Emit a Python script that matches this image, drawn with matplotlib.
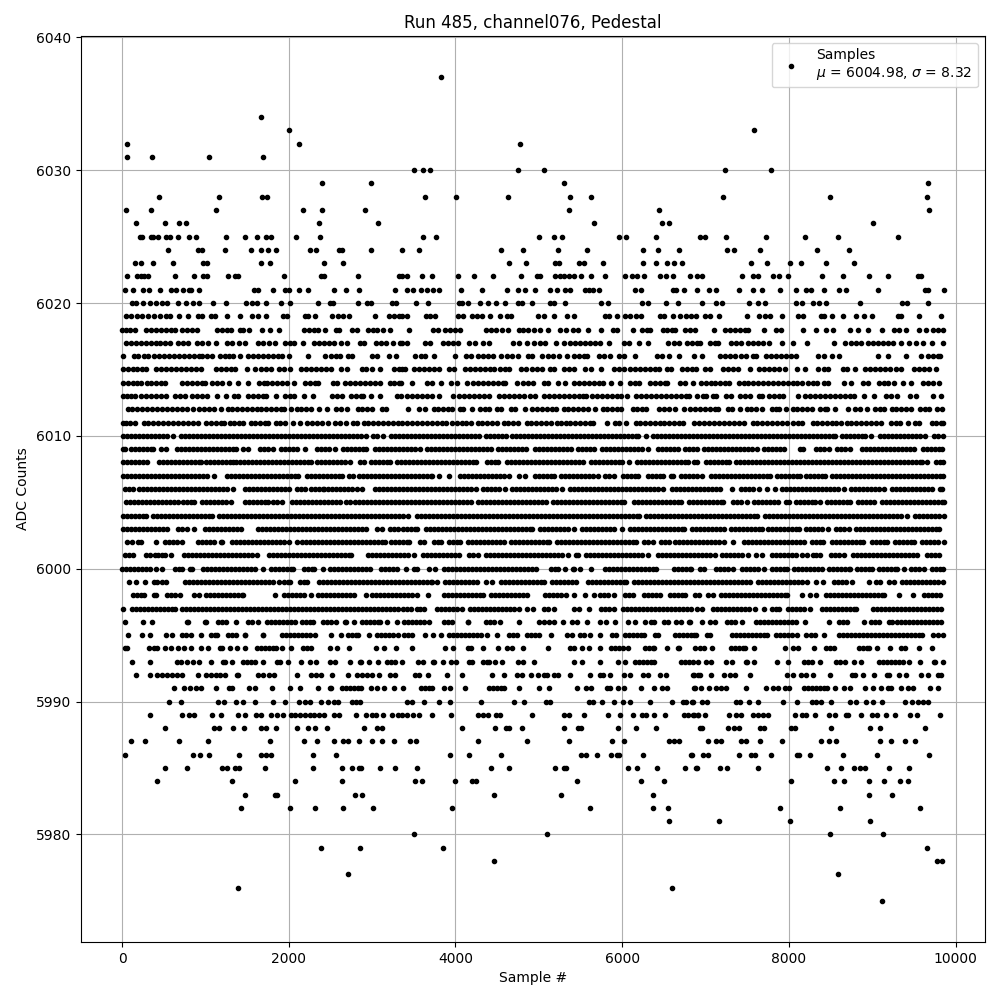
import matplotlib
matplotlib.use("Agg")
import matplotlib.pyplot as plt

# sample numbers, one list per ADC level
adc_6037 = [3832]
adc_6034 = [1668]
adc_6033 = [2004, 7580]
adc_6032 = [60, 2124, 4780]
adc_6031 = [60, 360, 1044, 1692]
adc_6030 = [3508, 3616, 3700, 4756, 5056, 7232, 7784]
adc_6029 = [2400, 2988, 5296, 9668]
adc_6028 = [444, 1164, 1680, 1740, 3640, 4012, 4636, 5368, 5620, 7208, 8492, 9656]
adc_6027 = [48, 348, 1128, 2172, 2400, 2916, 5356, 6436, 9680]
adc_6026 = [168, 516, 684, 768, 2364, 3072, 5656, 6472, 6556, 9008]
adc_6025 = [216, 240, 348, 372, 432, 528, 576, 672, 804, 888, 1248, 1476, 1620, 1728, 1788, 2088, 2376, 3616, 3772,
            4996, 5176, 5272, 5956, 6040, 6400, 6928, 6992, 7244, 7724, 8192, 8588, 9308]
adc_6024 = [552, 912, 960, 1236, 1548, 1668, 1752, 1848, 2256, 2328, 2604, 2640, 2988, 3364, 3568, 4552, 4816, 5224,
            5572, 6244, 6424, 6676, 7256, 7340, 7652, 8336, 8720]
adc_6023 = [156, 228, 372, 612, 972, 1020, 1668, 1776, 2424, 2652, 4648, 4852, 5188, 5236, 5476, 5536, 5764, 6244,
            6400, 6532, 6616, 6712, 7544, 7736, 8012, 8144, 8444, 8780]
adc_6022 = [60, 180, 228, 264, 312, 636, 864, 972, 1020, 1272, 1356, 1392, 1944, 2388, 2424, 2832, 3324, 3364, 3424,
            3604, 3724, 4036, 4228, 4456, 4792, 4972, 5008, 5188, 5248, 5296, 5356, 5416, 5500, 5620, 5788, 6028,
            6112, 6172, 6264, 6456, 6528, 6612, 6816, 6896, 6956, 7436, 7568, 7628, 7808, 7880, 7988, 8396, 8648,
            8960, 9188, 9548, 9584]
adc_6021 = [36, 132, 252, 324, 456, 588, 648, 732, 804, 828, 924, 1584, 1632, 1812, 1956, 2004, 2124, 2232, 2544,
            2688, 2844, 3276, 3424, 3496, 3592, 3664, 3736, 3808, 4072, 4324, 4624, 4756, 4840, 4948, 5128, 5212,
            5308, 5368, 5548, 5596, 5644, 5716, 6148, 6220, 6604, 6644, 6736, 6896, 7040, 7124, 7400, 7568, 7676,
            7892, 8084, 8204, 8264, 8420, 8600, 8684, 9068, 9632, 9668, 9860]
adc_6020 = [120, 168, 252, 336, 408, 480, 540, 672, 768, 852, 924, 1092, 1248, 1488, 1560, 1620, 1728, 1908, 2016,
            2352, 2496, 2532, 2832, 2940, 2988, 3240, 3288, 3532, 3676, 4048, 4084, 4156, 4300, 4396, 4488, 4600,
            4756, 4804, 4924, 5128, 5176, 5308, 5740, 5824, 6232, 6304, 6520, 6664, 6960, 7124, 7196, 7520, 7628,
            7712, 8084, 8156, 8288, 8360, 8444, 8852, 9356, 9416, 9668]
adc_6019 = [48, 112, 176, 240, 312, 384, 456, 528, 576, 684, 792, 912, 960, 1068, 1116, 1260, 1416, 1560, 1632, 1728,
            1932, 1980, 2196, 2232, 2316, 2520, 2592, 2652, 2724, 3032, 3204, 3264, 3324, 3364, 3424, 3652, 3700,
            3760, 4036, 4096, 4204, 4264, 4324, 4420, 4540, 4624, 4672, 4984, 5056, 5176, 5332, 5416, 5788, 5836,
            5940, 6028, 6088, 6160, 6220, 6448, 6496, 6612, 6688, 6760, 6820, 6884, 6992, 7052, 7160, 7496, 7640,
            7712, 7772, 7916, 8108, 8168, 8384, 8420, 8516, 8648, 8804, 8900, 8996, 9308, 9344, 9560, 9824]
adc_6018 = [0, 50, 100, 160, 284, 344, 404, 464, 524, 584, 632, 724, 784, 844, 904, 1144, 1204, 1264, 1312, 1416,
            1456, 1524, 1680, 1776, 1884, 2184, 2244, 2304, 2352, 2432, 2564, 2608, 2764, 2824, 2952, 3012, 3064,
            3136, 3216, 3448, 3736, 3796, 3876, 3936, 3996, 4056, 4368, 4424, 4488, 4556, 4636, 4768, 4816, 4876,
            4936, 5008, 5104, 5256, 5324, 5404, 5468, 5584, 5740, 5884, 5936, 6124, 6236, 6296, 6336, 6484, 6536,
            6596, 6636, 6748, 6816, 6876, 7100, 7228, 7288, 7348, 7408, 7468, 7508, 7700, 7840, 7908, 8168, 8324,
            8440, 8528, 8732, 8828, 8948, 9116, 9256, 9320, 9408, 9560, 9640, 9728, 9788, 9848]
adc_6017 = [44, 104, 164, 224, 284, 344, 404, 456, 512, 576, 672, 732, 792, 896, 956, 1032, 1124, 1256, 1324, 1400,
            1472, 1632, 1696, 1760, 1832, 1952, 2012, 2064, 2172, 2304, 2364, 2424, 2484, 2544, 2624, 2704, 2856,
            2904, 3044, 3104, 3164, 3256, 3336, 3356, 3416, 3636, 3696, 3856, 3916, 3976, 4036, 4168, 4236, 4336,
            4408, 4688, 4768, 4864, 4936, 5016, 5076, 5200, 5304, 5376, 5436, 5496, 5556, 5616, 5676, 5736, 5836,
            6016, 6076, 6196, 6304, 6548, 6616, 6676, 6776, 6836, 6896, 6936, 7048, 7108, 7148, 7308, 7368, 7428,
            7508, 7568, 7628, 7688, 7756, 7916, 8048, 8216, 8536, 8672, 8748, 8808, 8868, 8948, 9008, 9068, 9128,
            9188, 9248, 9348, 9440, 9528, 9608, 9716, 9848]
adc_6016 = [16, 144, 196, 264, 316, 384, 444, 504, 564, 624, 684, 744, 804, 864, 924, 964, 1024, 1084, 1176, 1232,
            1288, 1336, 1416, 1512, 1572, 1632, 1692, 1752, 1812, 1872, 1924, 2004, 2232, 2432, 2504, 2564, 2616,
            2712, 2764, 3004, 3056, 3204, 3284, 3520, 3584, 3640, 3744, 4000, 4128, 4192, 4276, 4336, 4396, 4456,
            4548, 4616, 4676, 4756, 4876, 4924, 5036, 5104, 5164, 5236, 5336, 5416, 5476, 5536, 5576, 5724, 5784,
            5848, 5956, 6016, 6148, 6416, 6476, 6556, 6676, 6856, 6956, 7168, 7228, 7288, 7348, 7428, 7488, 7568,
            7608, 7720, 7788, 7848, 7908, 7968, 8028, 8080, 8348, 8416, 8520, 8600, 9068, 9188, 9400, 9588, 9668,
            9728, 9788, 9816]
adc_6015 = [16, 70, 125, 180, 240, 290, 404, 464, 524, 584, 644, 704, 764, 824, 884, 944, 1124, 1184, 1244, 1304,
            1350, 1496, 1592, 1672, 1732, 1790, 1884, 1944, 2010, 2144, 2204, 2264, 2324, 2384, 2444, 2510, 2632,
            2704, 2876, 2932, 3004, 3096, 3264, 3324, 3356, 3392, 3504, 3564, 3624, 3684, 3744, 3800, 3928, 3980,
            4116, 4176, 4236, 4296, 4356, 4416, 4468, 4536, 4596, 4640, 4784, 4848, 4916, 4976, 5040, 5128, 5180,
            5304, 5364, 5420, 5556, 5620, 5748, 5896, 5956, 6024, 6096, 6156, 6216, 6276, 6336, 6396, 6440, 6536,
            6590, 6716, 6776, 6836, 6888, 6988, 7048, 7208, 7268, 7328, 7388, 7532, 7636, 7696, 7756, 7816, 7876,
            7950, 8096, 8188, 8348, 8416, 8470, 8648, 8700, 8788, 8908, 8968, 9028, 9088, 9148, 9208, 9280, 9340,
            9496, 9556, 9616, 9676, 9760]
adc_6014 = [16, 70, 125, 180, 225, 296, 344, 404, 464, 510, 716, 776, 836, 896, 956, 1000, 1076, 1136, 1196, 1280,
            1392, 1512, 1640, 1700, 1744, 1804, 1864, 1924, 1984, 2060, 2192, 2252, 2312, 2350, 2532, 2580, 2672,
            2732, 2792, 2852, 2912, 2972, 3032, 3100, 3216, 3264, 3324, 3348, 3480, 3656, 3716, 3828, 3944, 4016,
            4136, 4208, 4268, 4328, 4388, 4448, 4508, 4568, 4600, 4744, 4816, 4876, 4930, 5064, 5110, 5224, 5308,
            5416, 5476, 5536, 5596, 5656, 5716, 5765, 5864, 5968, 6096, 6156, 6205, 6336, 6396, 6456, 6516, 6540,
            6696, 6750, 6848, 6948, 7008, 7068, 7110, 7176, 7236, 7285, 7400, 7460, 7510, 7568, 7628, 7688, 7748,
            7808, 7868, 7928, 7988, 8048, 8100, 8156, 8228, 8288, 8340, 8416, 8470, 8656, 8750, 8888, 8950, 9076,
            9136, 9190, 9256, 9368, 9468, 9608, 9668, 9728, 9800]
adc_6013 = [16, 60, 110, 160, 224, 284, 344, 404, 464, 530, 632, 692, 750, 844, 904, 964, 1020, 1136, 1248, 1344,
            1392, 1516, 1576, 1636, 1692, 1730, 1844, 1956, 2016, 2066, 2184, 2292, 2524, 2584, 2635, 2744, 2804,
            2864, 2895, 2992, 3096, 3304, 3352, 3416, 3476, 3536, 3596, 3656, 3716, 3800, 3976, 4048, 4108, 4168,
            4228, 4288, 4348, 4400, 4528, 4588, 4648, 4708, 4768, 4828, 4896, 4950, 5056, 5116, 5176, 5236, 5296,
            5356, 5416, 5476, 5530, 5564, 5636, 5696, 5756, 5816, 5876, 5936, 5990, 6056, 6168, 6228, 6288, 6348,
            6408, 6468, 6528, 6588, 6648, 6708, 6768, 6800, 6896, 6968, 7008, 7088, 7130, 7248, 7300, 7408, 7468,
            7535, 7636, 7672, 7756, 7816, 7876, 7935, 8108, 8188, 8248, 8308, 8368, 8428, 8488, 8548, 8608, 8668,
            8728, 8780, 8900, 9016, 9168, 9220, 9296, 9448, 9520, 9728, 9820]
adc_6012 = [70, 120, 176, 236, 296, 356, 416, 476, 536, 596, 656, 716, 776, 850, 924, 984, 1044, 1100, 1184, 1272,
            1324, 1384, 1444, 1504, 1564, 1615, 1672, 1724, 1784, 1844, 1904, 1945, 2024, 2096, 2148, 2208, 2268,
            2360, 2456, 2572, 2624, 2700, 2832, 2884, 2944, 2995, 3124, 3170, 3436, 3568, 3630, 3745, 3796, 3856,
            3916, 3960, 4056, 4096, 4196, 4296, 4356, 4408, 4504, 4550, 4664, 4720, 4840, 4924, 4976, 5036, 5096,
            5156, 5208, 5296, 5348, 5408, 5468, 5528, 5588, 5668, 5764, 5816, 5876, 5936, 5990, 6124, 6176, 6236,
            6288, 6436, 6504, 6556, 6628, 6744, 6808, 6870, 6936, 6988, 7048, 7108, 7150, 7264, 7320, 7412, 7496,
            7548, 7608, 7680, 7796, 7848, 7880, 7968, 8048, 8100, 8160, 8220, 8272, 8376, 8428, 8460, 8552, 8708,
            8796, 8848, 8940, 9036, 9088, 9140, 9236, 9288, 9348, 9408, 9460, 9576, 9628, 9680, 9776, 9840]
adc_6011 = [16, 50, 100, 150, 260, 310, 376, 436, 496, 556, 616, 676, 736, 796, 856, 915, 1012, 1064, 1124, 1184,
            1224, 1292, 1344, 1404, 1456, 1544, 1596, 1656, 1716, 1752, 1844, 1896, 1956, 2048, 2132, 2224, 2276,
            2336, 2396, 2476, 2560, 2616, 2692, 2772, 2816, 2904, 2956, 3016, 3076, 3136, 3196, 3256, 3316, 3356,
            3416, 3476, 3536, 3596, 3656, 3716, 3776, 3836, 3884, 3964, 4016, 4076, 4128, 4192, 4272, 4324, 4384,
            4444, 4496, 4584, 4636, 4696, 4748, 4856, 4908, 4968, 5028, 5088, 5140, 5216, 5260, 5324, 5376, 5436,
            5496, 5556, 5616, 5648, 5816, 5916, 5960, 6048, 6164, 6216, 6276, 6336, 6388, 6456, 6504, 6556, 6616,
            6676, 6728, 6864, 6916, 6976, 7036, 7096, 7156, 7216, 7276, 7336, 7396, 7460, 7568, 7620, 7680, 7740,
            7800, 7860, 7920, 7980, 8048, 8108, 8160, 8288, 8340, 8400, 8460, 8520, 8560, 8628, 8696, 8748, 8808,
            8868, 8928, 8988, 9048, 9100, 9228, 9280, 9332, 9428, 9516, 9560, 9716, 9768, 9820, 9850]
adc_6010 = [16, 64, 112, 160, 208, 256, 304, 352, 400, 448, 496, 544, 612, 704, 752, 800, 848, 896, 944, 992, 1040,
            1088, 1136, 1184, 1232, 1280, 1328, 1376, 1424, 1472, 1520, 1568, 1616, 1664, 1712, 1760, 1808, 1856,
            1904, 1952, 2000, 2048, 2096, 2144, 2192, 2240, 2288, 2336, 2384, 2432, 2480, 2528, 2576, 2624, 2672,
            2720, 2768, 2816, 2864, 2932, 3016, 3064, 3132, 3224, 3272, 3320, 3368, 3416, 3464, 3512, 3560, 3608,
            3656, 3704, 3752, 3800, 3848, 3896, 3944, 3992, 4040, 4088, 4136, 4184, 4232, 4284, 4368, 4416, 4464,
            4512, 4560, 4604, 4676, 4724, 4772, 4820, 4868, 4916, 4964, 5012, 5060, 5108, 5156, 5204, 5252, 5300,
            5348, 5396, 5444, 5492, 5540, 5588, 5636, 5684, 5732, 5780, 5828, 5876, 5924, 5972, 6020, 6068, 6116,
            6164, 6192, 6280, 6368, 6416, 6464, 6512, 6560, 6608, 6656, 6704, 6752, 6800, 6848, 6896, 6944, 6992,
            7040, 7088, 7136, 7184, 7232, 7280, 7328, 7376, 7424, 7472, 7520, 7568, 7616, 7664, 7712, 7760, 7808,
            7856, 7904, 7952, 8000, 8048, 8096, 8144, 8192, 8240, 8288, 8336, 8384, 8432, 8480, 8528, 8556, 8640,
            8688, 8736, 8784, 8832, 8880, 8916, 8980, 9088, 9136, 9184, 9232, 9280, 9328, 9376, 9424, 9472, 9520,
            9568, 9636, 9740, 9788, 9848]
adc_6009 = [10, 40, 104, 152, 200, 248, 296, 344, 372, 464, 524, 656, 704, 752, 800, 848, 896, 944, 992, 1040, 1088,
            1136, 1184, 1232, 1280, 1328, 1372, 1448, 1512, 1656, 1704, 1752, 1812, 1904, 1952, 2000, 2048, 2104,
            2200, 2336, 2384, 2432, 2480, 2552, 2648, 2696, 2744, 2792, 2840, 2888, 2932, 3036, 3084, 3132, 3180,
            3228, 3276, 3324, 3372, 3420, 3468, 3516, 3576, 3660, 3708, 3756, 3804, 3852, 3900, 3948, 3996, 4044,
            4092, 4140, 4188, 4236, 4284, 4332, 4380, 4424, 4508, 4556, 4604, 4652, 4700, 4748, 4796, 4844, 4956,
            5004, 5052, 5100, 5148, 5196, 5244, 5292, 5340, 5384, 5468, 5516, 5564, 5612, 5664, 5756, 5804, 5852,
            5900, 5948, 5996, 6044, 6092, 6140, 6188, 6236, 6312, 6428, 6476, 6524, 6572, 6620, 6664, 6748, 6796,
            6844, 6896, 6980, 7028, 7076, 7124, 7172, 7220, 7268, 7316, 7364, 7412, 7460, 7508, 7556, 7616, 7700,
            7748, 7796, 7844, 7892, 7936, 8128, 8168, 8320, 8368, 8416, 8476, 8580, 8628, 8676, 8736, 8872, 8920,
            8968, 9016, 9064, 9112, 9160, 9208, 9256, 9304, 9352, 9400, 9448, 9496, 9612, 9660, 9708, 9756, 9804,
            9836]
adc_6008 = [16, 64, 112, 160, 208, 256, 296, 440, 488, 536, 584, 632, 680, 728, 776, 824, 872, 920, 944, 1012, 1060,
            1108, 1156, 1204, 1252, 1300, 1332, 1368, 1416, 1464, 1512, 1560, 1608, 1656, 1704, 1752, 1800, 1848,
            1896, 1944, 1992, 2040, 2088, 2136, 2184, 2232, 2272, 2336, 2384, 2432, 2480, 2528, 2576, 2624, 2672,
            2740, 2860, 2908, 2992, 3040, 3088, 3136, 3184, 3216, 3296, 3344, 3392, 3440, 3488, 3536, 3584, 3632,
            3680, 3728, 3776, 3824, 3872, 3920, 3968, 4016, 4064, 4112, 4160, 4208, 4244, 4376, 4424, 4472, 4512,
            4616, 4664, 4712, 4760, 4808, 4856, 4904, 4952, 5000, 5048, 5096, 5144, 5192, 5240, 5288, 5336, 5384,
            5432, 5480, 5524, 5620, 5668, 5716, 5764, 5812, 5860, 5908, 5956, 5992, 6084, 6176, 6224, 6272, 6320,
            6368, 6416, 6464, 6512, 6560, 6608, 6656, 6704, 6752, 6784, 6860, 6896, 7000, 7048, 7096, 7144, 7192,
            7240, 7276, 7360, 7408, 7456, 7504, 7552, 7600, 7648, 7696, 7744, 7792, 7840, 7888, 7936, 7984, 8032,
            8080, 8128, 8176, 8224, 8272, 8320, 8368, 8416, 8464, 8512, 8560, 8608, 8656, 8704, 8752, 8800, 8848,
            8896, 8944, 8992, 9040, 9088, 9136, 9184, 9232, 9280, 9328, 9376, 9424, 9472, 9520, 9576, 9600, 9656,
            9760, 9808, 9848]
adc_6007 = [16, 64, 112, 160, 208, 256, 304, 352, 400, 448, 496, 544, 592, 640, 688, 736, 784, 832, 880, 928, 976,
            1024, 1100, 1260, 1308, 1356, 1404, 1452, 1500, 1548, 1596, 1644, 1692, 1740, 1788, 1836, 1884, 1932,
            1980, 2028, 2076, 2116, 2224, 2268, 2316, 2364, 2412, 2460, 2508, 2556, 2604, 2640, 2720, 2776, 2844,
            2892, 2940, 2988, 3036, 3084, 3132, 3180, 3228, 3276, 3324, 3372, 3420, 3468, 3516, 3564, 3612, 3660,
            3708, 3724, 3808, 3928, 4056, 4104, 4152, 4200, 4248, 4296, 4344, 4392, 4440, 4488, 4536, 4584, 4644,
            4768, 4832, 4956, 5004, 5052, 5100, 5148, 5184, 5268, 5316, 5364, 5412, 5460, 5508, 5556, 5604, 5652,
            5704, 5796, 5844, 5904, 6008, 6056, 6104, 6152, 6192, 6308, 6356, 6404, 6452, 6484, 6580, 6604, 6700,
            6748, 6796, 6844, 6892, 6956, 7060, 7108, 7156, 7204, 7252, 7300, 7348, 7396, 7444, 7492, 7540, 7588,
            7636, 7684, 7732, 7768, 7860, 7908, 7956, 8004, 8052, 8100, 8128, 8208, 8256, 8304, 8352, 8400, 8436,
            8520, 8568, 8616, 8664, 8712, 8760, 8808, 8856, 8904, 8952, 9000, 9048, 9096, 9144, 9192, 9240, 9288,
            9336, 9384, 9432, 9480, 9528, 9576, 9624, 9672, 9720, 9768, 9816, 9848]
adc_6006 = [36, 84, 130, 204, 252, 300, 348, 396, 444, 492, 540, 588, 636, 684, 732, 780, 828, 876, 924, 972, 1020,
            1068, 1116, 1164, 1212, 1260, 1336, 1476, 1524, 1572, 1620, 1668, 1716, 1764, 1812, 1860, 1908, 1956,
            2000, 2100, 2148, 2196, 2272, 2320, 2368, 2416, 2424, 2476, 2524, 2572, 2620, 2668, 2716, 2764, 2816,
            2880, 3036, 3084, 3132, 3180, 3228, 3276, 3324, 3372, 3420, 3468, 3516, 3564, 3612, 3660, 3708, 3756,
            3804, 3852, 3900, 3948, 3996, 4044, 4092, 4140, 4188, 4244, 4328, 4376, 4424, 4472, 4520, 4592, 4676,
            4724, 4772, 4820, 4868, 4916, 4964, 5012, 5060, 5108, 5156, 5204, 5272, 5368, 5416, 5464, 5512, 5560,
            5608, 5656, 5704, 5752, 5800, 5848, 5896, 5944, 5992, 6040, 6088, 6136, 6184, 6232, 6280, 6328, 6376,
            6424, 6484, 6596, 6644, 6692, 6740, 6788, 6836, 6884, 6932, 6980, 7028, 7076, 7124, 7176, 7316, 7420,
            7468, 7516, 7564, 7636, 7740, 7836, 7920, 7968, 8016, 8064, 8112, 8160, 8208, 8256, 8304, 8352, 8400,
            8448, 8496, 8544, 8592, 8656, 8740, 8788, 8836, 8884, 8932, 8980, 9028, 9076, 9136, 9240, 9288, 9336,
            9384, 9432, 9480, 9528, 9576, 9624, 9672, 9716, 9808, 9836]
adc_6005 = [48, 96, 144, 192, 240, 288, 336, 384, 432, 480, 528, 576, 624, 668, 732, 780, 828, 864, 960, 1008, 1056,
            1104, 1152, 1200, 1248, 1304, 1480, 1528, 1576, 1624, 1672, 1716, 1756, 1816, 1864, 1924, 2044, 2092,
            2140, 2188, 2236, 2284, 2332, 2380, 2428, 2476, 2524, 2572, 2620, 2688, 2740, 2796, 2844, 2892, 2940,
            2988, 3036, 3084, 3132, 3180, 3228, 3276, 3324, 3372, 3420, 3468, 3516, 3564, 3612, 3660, 3708, 3756,
            3804, 3852, 3900, 3948, 3996, 4044, 4092, 4140, 4184, 4268, 4316, 4364, 4412, 4460, 4508, 4556, 4604,
            4652, 4700, 4748, 4796, 4844, 4892, 4940, 4988, 5036, 5084, 5168, 5216, 5264, 5312, 5360, 5408, 5456,
            5504, 5552, 5600, 5648, 5696, 5744, 5792, 5840, 5888, 5936, 5984, 6024, 6140, 6188, 6236, 6284, 6332,
            6380, 6428, 6476, 6524, 6572, 6620, 6668, 6704, 6800, 6848, 6896, 6944, 6992, 7040, 7088, 7136, 7184,
            7208, 7332, 7380, 7428, 7496, 7584, 7632, 7680, 7728, 7776, 7824, 7864, 7960, 7996, 8088, 8136, 8184,
            8232, 8280, 8316, 8376, 8460, 8508, 8556, 8604, 8652, 8700, 8736, 8828, 8876, 8924, 8972, 9016, 9112,
            9160, 9208, 9256, 9304, 9352, 9400, 9448, 9496, 9544, 9592, 9640, 9688, 9736, 9784, 9832, 9856]
adc_6004 = [16, 64, 112, 160, 208, 256, 292, 376, 424, 472, 520, 568, 616, 664, 712, 760, 808, 856, 904, 952, 1000,
            1048, 1084, 1168, 1216, 1264, 1312, 1360, 1408, 1456, 1504, 1552, 1600, 1648, 1696, 1744, 1792, 1840,
            1888, 1936, 1984, 2032, 2080, 2128, 2176, 2224, 2272, 2320, 2368, 2416, 2464, 2512, 2560, 2608, 2656,
            2704, 2752, 2800, 2848, 2896, 2944, 2992, 3040, 3088, 3136, 3184, 3232, 3280, 3328, 3376, 3436, 3536,
            3584, 3632, 3680, 3728, 3776, 3824, 3872, 3920, 3968, 4016, 4064, 4112, 4160, 4208, 4256, 4304, 4352,
            4400, 4448, 4496, 4544, 4592, 4640, 4688, 4736, 4784, 4832, 4880, 4928, 4976, 5024, 5072, 5120, 5168,
            5216, 5264, 5312, 5360, 5408, 5456, 5504, 5552, 5600, 5648, 5696, 5744, 5792, 5840, 5888, 5936, 5984,
            6032, 6080, 6128, 6176, 6204, 6288, 6336, 6384, 6432, 6480, 6528, 6576, 6624, 6672, 6720, 6768, 6816,
            6864, 6912, 6960, 7008, 7056, 7104, 7152, 7200, 7248, 7296, 7344, 7392, 7440, 7488, 7536, 7584, 7616,
            7712, 7760, 7808, 7856, 7904, 7952, 8000, 8048, 8096, 8144, 8192, 8240, 8288, 8336, 8384, 8432, 8480,
            8528, 8576, 8624, 8672, 8720, 8768, 8816, 8864, 8912, 8960, 9008, 9056, 9104, 9152, 9200, 9248, 9296,
            9344, 9416, 9512, 9560, 9608, 9656, 9704, 9752, 9800, 9856]
adc_6003 = [16, 64, 112, 160, 208, 256, 304, 352, 400, 448, 496, 544, 672, 720, 784, 860, 996, 1044, 1092, 1140, 1188,
            1236, 1284, 1332, 1380, 1432, 1632, 1680, 1728, 1776, 1824, 1872, 1920, 1968, 2016, 2064, 2112, 2160,
            2208, 2256, 2304, 2352, 2400, 2448, 2496, 2544, 2592, 2640, 2688, 2736, 2784, 2832, 2880, 2924, 3056,
            3124, 3216, 3264, 3312, 3368, 3416, 3464, 3512, 3544, 3648, 3696, 3744, 3792, 3840, 3888, 3936, 3984,
            4032, 4080, 4128, 4176, 4224, 4272, 4320, 4368, 4416, 4464, 4512, 4560, 4608, 4656, 4704, 4752, 4800,
            4848, 4896, 4924, 5016, 5064, 5112, 5160, 5208, 5256, 5304, 5352, 5424, 5516, 5564, 5612, 5660, 5708,
            5756, 5804, 5852, 5904, 5996, 6088, 6136, 6184, 6232, 6280, 6328, 6376, 6424, 6472, 6520, 6568, 6616,
            6664, 6712, 6744, 6840, 6888, 6936, 6984, 7032, 7080, 7128, 7176, 7216, 7300, 7348, 7396, 7444, 7492,
            7540, 7588, 7636, 7676, 7752, 7800, 7848, 7896, 7944, 7992, 8040, 8088, 8116, 8200, 8248, 8296, 8344,
            8392, 8464, 8560, 8608, 8656, 8716, 8808, 8856, 8904, 8952, 9000, 9048, 9096, 9144, 9192, 9240, 9288,
            9336, 9384, 9432, 9480, 9528, 9576, 9624, 9672, 9720, 9768, 9796]
adc_6002 = [64, 120, 196, 232, 404, 516, 564, 612, 660, 716, 916, 964, 1012, 1060, 1104, 1188, 1200, 1316, 1364, 1412,
            1460, 1508, 1556, 1604, 1652, 1700, 1748, 1796, 1844, 1892, 1944, 2004, 2100, 2164, 2212, 2260, 2308,
            2356, 2404, 2452, 2500, 2548, 2596, 2644, 2692, 2740, 2788, 2836, 2884, 2932, 2980, 3028, 3076, 3124,
            3160, 3224, 3272, 3320, 3368, 3416, 3444, 3576, 3624, 3740, 3788, 3824, 3920, 3968, 4016, 4052, 4148,
            4196, 4244, 4292, 4340, 4388, 4436, 4484, 4532, 4584, 4668, 4716, 4764, 4812, 4860, 4908, 4956, 5004,
            5052, 5100, 5124, 5216, 5264, 5312, 5360, 5408, 5456, 5504, 5552, 5600, 5648, 5696, 5744, 5792, 5840,
            5888, 5936, 5984, 6032, 6080, 6128, 6164, 6256, 6304, 6364, 6468, 6516, 6564, 6628, 6676, 6724, 6772,
            6820, 6868, 6916, 6964, 7012, 7060, 7108, 7156, 7216, 7328, 7460, 7508, 7556, 7604, 7652, 7700, 7748,
            7796, 7844, 7892, 7940, 7988, 8036, 8084, 8132, 8176, 8272, 8320, 8368, 8408, 8512, 8560, 8608, 8656,
            8704, 8752, 8800, 8848, 8884, 8992, 9040, 9088, 9136, 9176, 9268, 9316, 9364, 9412, 9460, 9496, 9600,
            9648, 9696, 9744, 9792, 9856]
adc_6001 = [40, 88, 136, 284, 332, 396, 428, 480, 520, 592, 744, 792, 840, 888, 936, 984, 1032, 1080, 1128, 1176, 1224,
            1272, 1320, 1368, 1416, 1464, 1512, 1560, 1616, 1764, 1812, 1860, 1908, 1956, 2004, 2052, 2100, 2148,
            2196, 2244, 2292, 2340, 2388, 2436, 2484, 2532, 2580, 2628, 2676, 2724, 2752, 2956, 3004, 3052, 3100,
            3148, 3196, 3244, 3292, 3340, 3388, 3436, 3504, 3608, 3656, 3704, 3752, 3800, 3848, 3896, 3944, 3992,
            4044, 4168, 4216, 4272, 4368, 4416, 4464, 4512, 4560, 4608, 4656, 4704, 4752, 4800, 4848, 4896, 4944,
            4992, 5040, 5088, 5136, 5184, 5232, 5280, 5344, 5440, 5464, 5568, 5616, 5664, 5712, 5760, 5808, 5856,
            5904, 5952, 6000, 6048, 6096, 6144, 6192, 6240, 6312, 6428, 6476, 6524, 6572, 6620, 6668, 6716, 6764,
            6812, 6860, 6908, 6956, 7004, 7052, 7116, 7200, 7248, 7296, 7344, 7392, 7440, 7508, 7608, 7676, 7792,
            7840, 7888, 7936, 7984, 8032, 8080, 8156, 8216, 8288, 8328, 8376, 8500, 8548, 8596, 8664, 8772, 8820,
            8868, 8916, 8964, 9012, 9060, 9108, 9156, 9204, 9252, 9300, 9348, 9396, 9444, 9492, 9536, 9652, 9700,
            9748, 9796]
adc_6000 = [0, 48, 96, 144, 192, 240, 288, 336, 408, 484, 640, 688, 724, 820, 844, 968, 1016, 1064, 1112, 1160, 1208,
            1256, 1304, 1352, 1400, 1448, 1496, 1544, 1592, 1692, 1784, 1832, 1880, 1928, 1976, 2024, 2048, 2184,
            2232, 2280, 2300, 2416, 2496, 2544, 2592, 2640, 2688, 2736, 2784, 2832, 2880, 2928, 2976, 3112, 3160,
            3208, 3256, 3300, 3404, 3500, 3544, 3680, 3756, 3868, 3916, 3964, 4012, 4060, 4108, 4156, 4204, 4252,
            4300, 4348, 4396, 4444, 4492, 4540, 4588, 4636, 4684, 4732, 4780, 4828, 4876, 4924, 4964, 5148, 5196,
            5224, 5308, 5408, 5416, 5496, 5620, 5788, 5836, 5884, 5932, 5980, 6028, 6076, 6124, 6172, 6220, 6268,
            6316, 6364, 6404, 6620, 6668, 6716, 6764, 6824, 6816, 6928, 6984, 7120, 7168, 7216, 7264, 7328, 7440,
            7488, 7536, 7584, 7632, 7704, 7800, 7848, 7896, 7944, 7976, 8060, 8108, 8156, 8204, 8252, 8300, 8348,
            8396, 8480, 8528, 8576, 8624, 8672, 8720, 8736, 8820, 8868, 8916, 8964, 8996, 9080, 9128, 9176, 9224,
            9272, 9296, 9376, 9460, 9508, 9556, 9616, 9720, 9768, 9816, 9848]
adc_5999 = [84, 164, 276, 384, 420, 480, 532, 756, 804, 852, 900, 948, 996, 1044, 1092, 1140, 1188, 1236, 1284, 1332,
            1380, 1428, 1476, 1524, 1572, 1620, 1668, 1716, 1764, 1812, 1880, 1942, 1990, 2012, 2136, 2184, 2224,
            2368, 2416, 2464, 2512, 2560, 2608, 2656, 2704, 2752, 2800, 2848, 2896, 2944, 2992, 3040, 3088, 3136,
            3184, 3232, 3280, 3328, 3376, 3424, 3472, 3520, 3568, 3616, 3664, 3712, 3724, 3776, 3876, 3924, 3972,
            4020, 4068, 4116, 4164, 4212, 4264, 4368, 4444, 4548, 4596, 4644, 4692, 4740, 4788, 4836, 4884, 4932,
            4980, 5028, 5064, 5156, 5204, 5252, 5300, 5348, 5396, 5444, 5588, 5636, 5684, 5732, 5780, 5828, 5876,
            5924, 5972, 6020, 6044, 6140, 6188, 6236, 6284, 6332, 6380, 6428, 6476, 6524, 6572, 6620, 6668, 6716,
            6764, 6812, 6860, 6908, 6956, 7004, 7052, 7100, 7148, 7196, 7244, 7292, 7340, 7388, 7436, 7484, 7536,
            7632, 7680, 7728, 7776, 7824, 7872, 7920, 7968, 8016, 8064, 8112, 8160, 8216, 8320, 8408, 8540, 8588,
            8636, 8684, 8756, 8960, 9040, 9096, 9200, 9256, 9352, 9400, 9448, 9496, 9544, 9592, 9640, 9688, 9736,
            9784, 9848]
adc_5998 = [136, 184, 232, 268, 388, 412, 544, 592, 640, 692, 868, 920, 1004, 1052, 1100, 1148, 1196, 1244, 1292, 1340,
            1388, 1436, 1452, 1832, 1944, 1992, 2040, 2088, 2136, 2184, 2272, 2356, 2404, 2452, 2500, 2548, 2596,
            2644, 2692, 2740, 2788, 2924, 2996, 3044, 3092, 3140, 3188, 3236, 3284, 3332, 3380, 3428, 3476, 3544,
            3676, 3868, 3916, 3964, 4012, 4060, 4108, 4156, 4204, 4252, 4300, 4336, 4428, 4476, 4524, 4572, 4620,
            4668, 4716, 4764, 4812, 4856, 5076, 5124, 5172, 5220, 5268, 5324, 5416, 5556, 5656, 5736, 5784, 5832,
            5904, 6028, 6076, 6124, 6256, 6304, 6352, 6400, 6456, 6576, 6624, 6672, 6720, 6752, 6872, 6916, 7024,
            7088, 7180, 7228, 7276, 7324, 7372, 7420, 7468, 7516, 7564, 7612, 7660, 7708, 7756, 7804, 7852, 7900,
            7948, 7976, 8160, 8256, 8324, 8440, 8488, 8536, 8584, 8632, 8680, 8728, 8776, 8824, 8872, 8920, 8968,
            9016, 9064, 9112, 9136, 9316, 9488, 9620, 9668, 9716, 9764, 9816]
adc_5997 = [12, 116, 164, 212, 260, 308, 356, 404, 452, 500, 548, 596, 640, 724, 772, 820, 868, 916, 964, 1012, 1060,
            1108, 1156, 1204, 1252, 1300, 1348, 1396, 1444, 1492, 1540, 1588, 1636, 1684, 1732, 1780, 1828, 1876,
            1924, 1972, 2020, 2068, 2116, 2164, 2212, 2260, 2308, 2356, 2404, 2452, 2500, 2548, 2596, 2644, 2692,
            2740, 2788, 2836, 2884, 2932, 2980, 3028, 3076, 3124, 3172, 3220, 3268, 3316, 3368, 3416, 3464, 3536,
            3576, 3624, 3784, 3832, 3880, 3928, 3976, 4024, 4084, 4180, 4228, 4276, 4324, 4372, 4420, 4468, 4516,
            4564, 4612, 4660, 4708, 4768, 4864, 4928, 5060, 5108, 5176, 5416, 5480, 5596, 5748, 5796, 5844, 5904,
            6008, 6056, 6104, 6152, 6200, 6248, 6296, 6344, 6392, 6440, 6488, 6536, 6584, 6632, 6680, 6728, 6776,
            6824, 6896, 6956, 7088, 7136, 7184, 7232, 7280, 7328, 7376, 7424, 7472, 7520, 7588, 7704, 7792, 7844,
            7884, 7984, 8032, 8080, 8128, 8176, 8256, 8392, 8440, 8488, 8536, 8584, 8632, 8680, 8728, 8776, 8808,
            9012, 9060, 9108, 9156, 9204, 9252, 9300, 9348, 9396, 9444, 9492, 9540, 9588, 9636, 9684, 9732, 9780,
            9828]
adc_5996 = [36, 252, 360, 780, 792, 996, 1012, 1156, 1204, 1252, 1364, 1516, 1564, 1632, 1736, 1784, 1832, 1880, 1928,
            1976, 2024, 2072, 2156, 2204, 2252, 2292, 2416, 2464, 2512, 2572, 2676, 2692, 2784, 2876, 2924, 2972,
            3020, 3068, 3092, 3184, 3304, 3380, 3428, 3476, 3524, 3572, 3620, 3684, 3868, 3916, 3964, 4148, 4152,
            4372, 4420, 4468, 4536, 4768, 4996, 5056, 5116, 5176, 5290, 5396, 5456, 5580, 5728, 5808, 5908, 6068,
            6148, 6268, 6340, 6376, 6496, 6552, 6648, 6700, 6796, 6816, 6960, 7048, 7108, 7260, 7308, 7356, 7436,
            7600, 7648, 7696, 7744, 7792, 7840, 7888, 7936, 7984, 8032, 8080, 8196, 8480, 8600, 8648, 8696, 8900,
            8988, 9036, 9084, 9200, 9236, 9296, 9344, 9392, 9440, 9488, 9536, 9584, 9632, 9680, 9728, 9776, 9824]
adc_5995 = [72, 240, 336, 528, 600, 716, 768, 832, 948, 1064, 1112, 1144, 1276, 1324, 1372, 1476, 1472, 1696, 1692,
            1916, 1964, 2012, 2060, 2108, 2156, 2204, 2252, 2312, 2508, 2628, 2716, 2764, 2812, 2832, 2964, 3056,
            3104, 3152, 3200, 3248, 3312, 3388, 3436, 3484, 3636, 3736, 3824, 3928, 3976, 4024, 4072, 4120, 4168,
            4216, 4264, 4312, 4384, 4496, 4640, 4688, 4744, 4856, 4904, 4952, 5004, 5140, 5336, 5392, 5496, 5544,
            5608, 5736, 5880, 5924, 6028, 6076, 6124, 6172, 6220, 6264, 6388, 6424, 6628, 6676, 6724, 6772, 6820,
            6884, 6860, 7020, 7056, 7320, 7368, 7416, 7464, 7512, 7560, 7608, 7656, 7704, 7736, 7840, 7888, 7936,
            7984, 8032, 8096, 8200, 8260, 8318, 8416, 8600, 8648, 8696, 8744, 8792, 8840, 8888, 8936, 8984, 9032,
            9080, 9128, 9176, 9224, 9272, 9320, 9368, 9416, 9464, 9512, 9560, 9600, 9728, 9788, 9848]
adc_5994 = [32, 64, 324, 384, 416, 516, 588, 672, 744, 828, 948, 1032, 1176, 1204, 1296, 1384, 1476, 1616, 1664, 1712,
            1760, 1808, 1852, 1920, 2028, 2176, 2224, 2272, 2496, 2580, 2724, 3044, 3144, 3288, 3484, 3880, 3976,
            4148, 4184, 4336, 4516, 4624, 4676, 4816, 5104, 5368, 5416, 5516, 5596, 5736, 5868, 5916, 5964, 6012,
            6064, 6268, 6316, 6364, 6384, 6536, 6668, 6684, 6876, 6936, 6984, 7080, 7300, 7348, 7396, 7444, 7476,
            7580, 7952, 8048, 8108, 8300, 8440, 8488, 8536, 8840, 8888, 8936, 8956, 9056, 9208, 9340, 9396, 9560, 9716]
adc_5993 = [120, 336, 664, 712, 784, 852, 924, 1064, 1216, 1232, 1324, 1448, 1496, 1544, 1592, 1692, 1856, 1892, 1996,
            2144, 2256, 2324, 2496, 2552, 2736, 2856, 2872, 2964, 3072, 3176, 3224, 3272, 3356, 3556, 3616, 3728,
            3744, 3856, 3944, 4008, 4168, 4204, 4328, 4376, 4404, 4476, 4556, 4748, 4816, 4936, 5416, 5516, 5728,
            5948, 6036, 6148, 6196, 6244, 6292, 6340, 6384, 6708, 6756, 6804, 6852, 6904, 7008, 7068, 7240, 7316,
            7480, 7496, 7580, 7860, 7988, 8180, 8228, 8276, 8376, 8560, 8608, 8676, 8780, 8868, 9080, 9128, 9176,
            9224, 9272, 9320, 9368, 9436, 9568, 9740, 9756, 9848]
adc_5992 = [168, 336, 424, 480, 544, 604, 664, 724, 912, 1008, 1072, 1124, 1176, 1236, 1376, 1392, 1632, 1692, 1764,
            1824, 2096, 2272, 2328, 2384, 2524, 2716, 2824, 2884, 2944, 3004, 3084, 3216, 3272, 3516, 3568, 3676,
            3904, 4084, 4444, 4588, 4736, 4796, 4912, 4984, 5056, 5096, 5176, 5228, 5368, 5616, 5728, 5764, 5856,
            6024, 6088, 6248, 6304, 6456, 6520, 6848, 6904, 6860, 6936, 7064, 7220, 7288, 7348, 7532, 7980, 8048,
            8148, 8208, 8288, 8492, 8752, 8796, 8888, 9020, 9180, 9196, 9316, 9408, 9588, 9668, 9792, 9824]
adc_5991 = [624, 744, 816, 884, 944, 1124, 1284, 1324, 1524, 1592, 1800, 2016, 2132, 2352, 2496, 2512, 2636, 2684, 2732,
            2780, 2828, 2872, 2988, 3060, 3144, 3264, 3376, 3588, 3636, 3684, 3724, 3868, 3936, 4116, 4408, 4456,
            4504, 4552, 4584, 4768, 4996, 5116, 5456, 5568, 5624, 5816, 5856, 5948, 6024, 6220, 6376, 6476, 6536, 6868,
            6860, 6944, 7040, 7128, 7188, 7248, 7484, 7724, 7808, 7868, 7948, 8000, 8180, 8228, 8276, 8324, 8372,
            8420, 8456, 8556, 8660, 8728, 8908, 9008, 9104, 9188, 9228, 9348, 9428, 9488, 9688, 9788]
adc_5990 = [564, 708, 1152, 1224, 1368, 1456, 1596, 1812, 1956, 2124, 2196, 2256, 2388, 2472, 2544, 2592, 2760, 2804,
            2856, 3424, 3480, 3628, 3800, 3940, 4312, 4708, 4828, 5080, 5128, 5600, 5648, 5752, 5896, 6004, 6088,
            6336, 6592, 6728, 6768, 6848, 6840, 6956, 7016, 7368, 7416, 7520, 7628, 7928, 8096, 8276, 8328, 8380,
            8504, 8728, 8808, 8924, 9008, 9116, 9388, 9476, 9548, 9608, 9668]
adc_5989 = [336, 720, 804, 864, 1084, 1184, 1392, 1476, 1608, 1668, 1788, 1864, 1932, 2024, 2080, 2140, 2200, 2256,
            2304, 2364, 2424, 2544, 2604, 2808, 2924, 3004, 3044, 3132, 3240, 3312, 3356, 3416, 3488, 3568, 3724,
            3952, 4276, 4336, 4388, 4484, 4536, 4916, 5304, 5356, 5536, 5824, 5968, 6124, 6236, 6284, 6376, 6516,
            6736, 6784, 6856, 6904, 6848, 6908, 6988, 7280, 7368, 7428, 7568, 7628, 7688, 7748, 8072, 8156, 8208,
            8312, 8480, 8552, 8688, 8708, 8864, 8996, 9056, 9168, 9268, 9452, 9536, 9812]
adc_5988 = [516, 1104, 1164, 1332, 1464, 1668, 1728, 1848, 2100, 2232, 2316, 2456, 2904, 3060, 3120, 4084, 4480,
            4608, 4648, 4804, 5296, 5464, 5508, 5948, 6160, 6400, 6936, 6952, 7268, 7340, 7400, 7656, 7700, 8020,
            8068, 8504, 8972, 9092, 9632]
adc_5987 = [108, 276, 684, 1032, 1776, 2184, 2340, 2544, 2652, 2712, 2844, 3000, 3120, 3264, 3460, 3532, 4272, 4864,
            5356, 5872, 6016, 6556, 6616, 6676, 7028, 7124, 7184, 7424, 7484, 7652, 7916, 8384, 8480, 8564, 9092,
            9224, 9392, 9512]
adc_5986 = [36, 852, 936, 1044, 1404, 1668, 1728, 1788, 2292, 2568, 3940, 4168, 4552, 5500, 5560, 5692, 5860, 5936,
            5956, 6244, 6836, 6828, 6968, 7028, 7400, 7544, 7592, 7784, 8096, 8120, 8252, 8648, 9056, 9680]
adc_5985 = [516, 780, 1200, 1260, 1356, 1404, 1716, 2292, 2640, 2760, 2844, 2868, 3096, 3276, 3544, 4432, 4648, 5188,
            5296, 5320, 6064, 6172, 6412, 6748, 6892, 6884, 7172, 7256, 7628, 8456, 8624, 8780, 8852, 8912, 9200,
            9440]
adc_5984 = [420, 1320, 2076, 2640, 3520, 3604, 4000, 4204, 4252, 5452, 6220, 6496, 8024, 8540, 8660, 8960, 9140,
            9332, 9428]
adc_5983 = [1476, 1836, 1860, 2796, 2880, 4468, 5260, 6364, 8960, 9236]
adc_5982 = [1428, 2016, 2316, 2652, 3012, 3964, 5608, 6364, 6544, 7892, 8612, 9572]
adc_5981 = [6556, 7160, 8012, 8972]
adc_5980 = [3508, 5092, 8492, 9128]
adc_5979 = [2388, 2856, 3856, 9656]
adc_5978 = [4468, 9776, 9836]
adc_5977 = [2712, 8588]
adc_5976 = [1392, 6592]
adc_5975 = [9112]

levels = [
    (6037, adc_6037), (6034, adc_6034), (6033, adc_6033), (6032, adc_6032), (6031, adc_6031), (6030, adc_6030),
    (6029, adc_6029), (6028, adc_6028), (6027, adc_6027), (6026, adc_6026), (6025, adc_6025), (6024, adc_6024),
    (6023, adc_6023), (6022, adc_6022), (6021, adc_6021), (6020, adc_6020), (6019, adc_6019), (6018, adc_6018),
    (6017, adc_6017), (6016, adc_6016), (6015, adc_6015), (6014, adc_6014), (6013, adc_6013), (6012, adc_6012),
    (6011, adc_6011), (6010, adc_6010), (6009, adc_6009), (6008, adc_6008), (6007, adc_6007), (6006, adc_6006),
    (6005, adc_6005), (6004, adc_6004), (6003, adc_6003), (6002, adc_6002), (6001, adc_6001), (6000, adc_6000),
    (5999, adc_5999), (5998, adc_5998), (5997, adc_5997), (5996, adc_5996), (5995, adc_5995), (5994, adc_5994),
    (5993, adc_5993), (5992, adc_5992), (5991, adc_5991), (5990, adc_5990), (5989, adc_5989), (5988, adc_5988),
    (5987, adc_5987), (5986, adc_5986), (5985, adc_5985), (5984, adc_5984), (5983, adc_5983), (5982, adc_5982),
    (5981, adc_5981), (5980, adc_5980), (5979, adc_5979), (5978, adc_5978), (5977, adc_5977), (5976, adc_5976),
    (5975, adc_5975),
]

samples = [s for level, xs in levels for s in xs]
counts = [level for level, xs in levels for s in xs]

fig, ax = plt.subplots(figsize=(10, 10))
ax.plot(samples, counts, ".", color="black",
        label="Samples\n$\\mu$ = 6004.98, $\\sigma$ = 8.32")
ax.set_title("Run 485, channel076, Pedestal")
ax.set_xlabel("Sample #")
ax.set_ylabel("ADC Counts")
ax.legend(loc="upper right")
ax.grid(True)
ax.set_xlim(-493, 10353)
fig.subplots_adjust(left=0.081, right=0.985, top=0.964, bottom=0.058)
fig.savefig("out.png", dpi=100)
